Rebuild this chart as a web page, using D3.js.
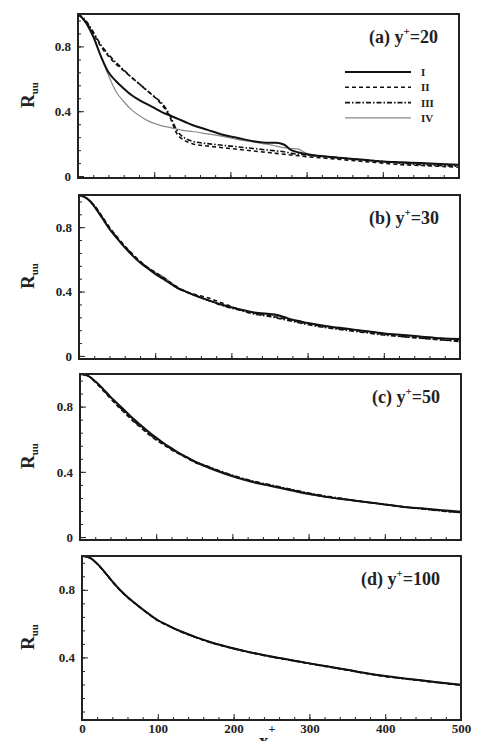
<!DOCTYPE html>
<html>
<head>
<meta charset="utf-8">
<script src="https://d3js.org/d3.v7.min.js"></script>
<style>
  body { margin: 0; background: #fff; }
  text { font-family: "Liberation Serif", "Times New Roman", serif; font-weight: bold; fill: #222; }
</style>
</head>
<body>
<svg id="chart" width="496" height="741"></svg>
<script>
// streamwise separation x+ (shared by all series)
const xs = [0, 10, 20, 30, 40, 50, 60, 70, 80, 90, 100, 110, 120, 130, 140, 150, 170, 190, 210, 230,
            250, 260, 270, 280, 290, 300, 325, 350, 375, 400, 425, 450, 475, 500];

// (a) y+=20
const aI   = [1.00, 0.95, 0.86, 0.74, 0.64, 0.585, 0.54, 0.50, 0.47, 0.445, 0.42, 0.395, 0.375, 0.355, 0.335, 0.315, 0.285, 0.255, 0.235, 0.215,
              0.205, 0.205, 0.195, 0.16, 0.145, 0.135, 0.12, 0.11, 0.10, 0.09, 0.085, 0.08, 0.075, 0.07];
const aII  = [1.00, 0.95, 0.88, 0.80, 0.74, 0.69, 0.65, 0.61, 0.57, 0.53, 0.49, 0.44, 0.37, 0.26, 0.22, 0.20, 0.185, 0.175, 0.165, 0.155,
              0.145, 0.14, 0.135, 0.13, 0.125, 0.12, 0.11, 0.10, 0.09, 0.08, 0.07, 0.065, 0.06, 0.055];
const aIII = [1.00, 0.96, 0.89, 0.81, 0.75, 0.70, 0.655, 0.61, 0.57, 0.53, 0.49, 0.45, 0.38, 0.28, 0.235, 0.215, 0.20, 0.19, 0.18, 0.17,
              0.16, 0.155, 0.15, 0.14, 0.135, 0.13, 0.12, 0.11, 0.10, 0.09, 0.08, 0.07, 0.065, 0.06];
const aIV  = [1.00, 0.95, 0.87, 0.74, 0.62, 0.52, 0.46, 0.41, 0.375, 0.345, 0.325, 0.31, 0.30, 0.29, 0.28, 0.275, 0.26, 0.245, 0.225, 0.21,
              0.195, 0.185, 0.175, 0.17, 0.165, 0.14, 0.12, 0.11, 0.10, 0.09, 0.08, 0.075, 0.07, 0.065];

// (b) y+=30
const bI   = [1.00, 0.98, 0.93, 0.86, 0.79, 0.73, 0.675, 0.625, 0.58, 0.545, 0.51, 0.48, 0.45, 0.42, 0.40, 0.38, 0.345, 0.315, 0.29, 0.27,
              0.26, 0.255, 0.24, 0.225, 0.215, 0.205, 0.185, 0.17, 0.155, 0.14, 0.13, 0.12, 0.11, 0.105];
const bII  = [1.00, 0.98, 0.935, 0.87, 0.80, 0.74, 0.685, 0.635, 0.59, 0.55, 0.52, 0.49, 0.455, 0.425, 0.40, 0.385, 0.36, 0.325, 0.29, 0.265,
              0.25, 0.24, 0.23, 0.22, 0.21, 0.20, 0.18, 0.165, 0.15, 0.135, 0.12, 0.11, 0.10, 0.095];
const bIII = [1.00, 0.98, 0.935, 0.865, 0.795, 0.735, 0.68, 0.63, 0.585, 0.55, 0.515, 0.485, 0.45, 0.42, 0.40, 0.38, 0.345, 0.31, 0.285, 0.26,
              0.245, 0.235, 0.225, 0.215, 0.205, 0.195, 0.175, 0.16, 0.145, 0.13, 0.12, 0.11, 0.10, 0.09];
const bIV  = [1.00, 0.98, 0.93, 0.86, 0.79, 0.73, 0.675, 0.625, 0.585, 0.55, 0.52, 0.495, 0.46, 0.425, 0.40, 0.38, 0.345, 0.315, 0.29, 0.27,
              0.255, 0.245, 0.235, 0.225, 0.215, 0.205, 0.185, 0.17, 0.155, 0.14, 0.13, 0.12, 0.11, 0.10];

// (c) y+=50
const cI   = [1.00, 0.99, 0.955, 0.91, 0.86, 0.815, 0.77, 0.725, 0.685, 0.645, 0.61, 0.575, 0.545, 0.515, 0.49, 0.465, 0.425, 0.39, 0.36, 0.335,
              0.315, 0.305, 0.295, 0.285, 0.275, 0.265, 0.245, 0.23, 0.215, 0.20, 0.185, 0.175, 0.165, 0.155];
const cII  = [1.00, 0.99, 0.95, 0.90, 0.85, 0.80, 0.755, 0.71, 0.67, 0.63, 0.595, 0.565, 0.535, 0.51, 0.485, 0.46, 0.425, 0.39, 0.36, 0.335,
              0.315, 0.305, 0.295, 0.285, 0.275, 0.265, 0.245, 0.23, 0.215, 0.20, 0.185, 0.175, 0.16, 0.15];
const cIII = [1.00, 0.99, 0.952, 0.905, 0.855, 0.805, 0.76, 0.715, 0.675, 0.635, 0.60, 0.57, 0.54, 0.515, 0.49, 0.465, 0.43, 0.395, 0.365, 0.34,
              0.32, 0.31, 0.30, 0.29, 0.28, 0.27, 0.25, 0.232, 0.215, 0.20, 0.185, 0.172, 0.16, 0.15];
const cIV  = [1.00, 0.99, 0.955, 0.91, 0.86, 0.812, 0.765, 0.72, 0.68, 0.64, 0.605, 0.57, 0.54, 0.51, 0.485, 0.46, 0.42, 0.385, 0.355, 0.33,
              0.31, 0.30, 0.29, 0.28, 0.27, 0.262, 0.243, 0.228, 0.213, 0.198, 0.185, 0.173, 0.162, 0.152];

// (d) y+=100
const dI   = [1.00, 0.99, 0.955, 0.905, 0.85, 0.80, 0.757, 0.72, 0.685, 0.651, 0.62, 0.597, 0.575, 0.555, 0.537, 0.52, 0.49, 0.465, 0.443, 0.423,
              0.405, 0.397, 0.389, 0.381, 0.373, 0.365, 0.346, 0.327, 0.307, 0.29, 0.276, 0.263, 0.25, 0.238];
const dII  = [1.00, 0.99, 0.954, 0.903, 0.848, 0.798, 0.755, 0.718, 0.683, 0.649, 0.618, 0.595, 0.573, 0.553, 0.535, 0.518, 0.488, 0.463, 0.441, 0.421,
              0.403, 0.395, 0.387, 0.379, 0.371, 0.363, 0.344, 0.325, 0.305, 0.288, 0.274, 0.261, 0.248, 0.236];
const dIII = [1.00, 0.99, 0.954, 0.904, 0.849, 0.799, 0.756, 0.719, 0.684, 0.65, 0.619, 0.596, 0.574, 0.554, 0.536, 0.519, 0.489, 0.464, 0.442, 0.422,
              0.404, 0.396, 0.388, 0.38, 0.372, 0.364, 0.345, 0.326, 0.306, 0.289, 0.275, 0.262, 0.249, 0.237];
const dIV  = [1.00, 0.99, 0.956, 0.906, 0.851, 0.801, 0.758, 0.721, 0.686, 0.652, 0.621, 0.598, 0.576, 0.556, 0.538, 0.521, 0.491, 0.466, 0.444, 0.424,
              0.406, 0.398, 0.39, 0.382, 0.374, 0.366, 0.347, 0.328, 0.308, 0.291, 0.277, 0.264, 0.251, 0.239];

const seriesNames = ['I', 'II', 'III', 'IV'];
const panelTags = ['(a)', '(b)', '(c)', '(d)'];
const panelYplus = ['20', '30', '50', '100'];
const xMajor = [0, 100, 200, 300, 400, 500];
const yMajor = [0, 0.4, 0.8];

// line look per series
const styles = [
    { stroke: '#111', width: 2.0, dash: null },
    { stroke: '#111', width: 1.6, dash: '4,3' },
    { stroke: '#111', width: 1.6, dash: '5,2,1.5,2' },
    { stroke: '#8a8a8a', width: 1.2, dash: null }
];

// panel frames (pixels) and lower y limit
const layout = [
    { left: 78, right: 459, top: 14,  bottom: 178, ymin: -0.012 },
    { left: 79, right: 460, top: 195, bottom: 359, ymin: -0.019 },
    { left: 80, right: 461, top: 374, bottom: 540, ymin: -0.018 },
    { left: 82, right: 461, top: 556, bottom: 720, ymin: 0.03 }
];

const allSeries = [[aI, aII, aIII, aIV], [bI, bII, bIII, bIV], [cI, cII, cIII, cIV], [dI, dII, dIII, dIV]];

const svg = d3.select('#chart');

function styleAxisText(sel) {
    sel.attr('font-family', '"Liberation Serif", serif')
        .attr('font-weight', 'bold')
        .attr('font-size', 13);
    sel.selectAll('text').attr('fill', '#222');
}

layout.forEach((p, i) => {
    const x = d3.scaleLinear().domain([0, 500]).range([p.left, p.right]);
    const y = d3.scaleLinear().domain([p.ymin, 1]).range([p.bottom, p.top]);
    const g = svg.append('g');
    const last = i === layout.length - 1;

    // clip so lines stay inside frame
    g.append('clipPath').attr('id', 'clip' + i)
        .append('rect')
        .attr('x', p.left).attr('y', p.top)
        .attr('width', p.right - p.left).attr('height', p.bottom - p.top);

    // minor ticks
    g.append('g')
        .attr('transform', `translate(0,${p.bottom})`)
        .call(d3.axisBottom(x).tickValues(d3.range(0, 501, 20)).tickSize(-3).tickFormat(''))
        .call(a => a.select('.domain').remove());
    g.append('g')
        .attr('transform', `translate(${p.left},0)`)
        .call(d3.axisLeft(y).tickValues(d3.range(0, 1.0, 0.08).filter(v => v >= p.ymin)).tickSize(-3).tickFormat(''))
        .call(a => a.select('.domain').remove());

    // major ticks
    g.append('g')
        .attr('transform', `translate(0,${p.bottom})`)
        .call(d3.axisBottom(x).tickValues(xMajor).tickSize(-6).tickPadding(4)
            .tickFormat(last ? d3.format('d') : ''))
        .call(a => a.select('.domain').remove())
        .call(styleAxisText);

    g.append('g')
        .attr('transform', `translate(${p.left},0)`)
        .call(d3.axisLeft(y).tickValues(yMajor.filter(v => v >= p.ymin)).tickSize(-6).tickPadding(7)
            .tickFormat(v => v === 0 ? '0' : d3.format('.1f')(v)))
        .call(a => a.select('.domain').remove())
        .call(styleAxisText);
    g.selectAll('.tick line').attr('stroke', '#222');

    // curves, draw IV first so the black lines sit on top
    const line = d3.line()
        .x((d, k) => x(xs[k]))
        .y(d => y(d))
        .curve(d3.curveMonotoneX);

    const series = allSeries[i];
    [3, 2, 1, 0].forEach(s => {
        g.append('path')
            .attr('clip-path', `url(#clip${i})`)
            .attr('d', line(series[s]))
            .attr('fill', 'none')
            .attr('stroke', styles[s].stroke)
            .attr('stroke-width', styles[s].width)
            .attr('stroke-dasharray', styles[s].dash);
    });

    // frame
    g.append('rect')
        .attr('x', p.left).attr('y', p.top)
        .attr('width', p.right - p.left).attr('height', p.bottom - p.top)
        .attr('fill', 'none').attr('stroke', '#222').attr('stroke-width', 2);

    // panel label
    const t = g.append('text')
        .attr('x', p.right - 21).attr('y', p.top + 29)
        .attr('text-anchor', 'end')
        .style('font-size', '18px');
    t.append('tspan').text(panelTags[i] + ' y');
    t.append('tspan').attr('dy', -8).style('font-size', '11px').text('+');
    t.append('tspan').attr('dy', 8).text('=' + panelYplus[i]);

    // y axis title R_uu
    const yt = g.append('text')
        .attr('transform', `translate(34,${(p.top + p.bottom) / 2 + 12}) rotate(-90)`)
        .style('font-size', '19px');
    yt.append('tspan').text('R');
    yt.append('tspan').attr('dy', 4).style('font-size', '11px').text('uu');

    // legend in first panel
    if (i === 0) {
        const leg = g.append('g');
        seriesNames.forEach((name, s) => {
            const ly = 72 + s * 15.3;
            leg.append('line')
                .attr('x1', 345).attr('x2', 411).attr('y1', ly).attr('y2', ly)
                .attr('stroke', styles[s].stroke)
                .attr('stroke-width', styles[s].width)
                .attr('stroke-dasharray', styles[s].dash);
            leg.append('text')
                .attr('x', 421).attr('y', ly + 4)
                .style('font-size', '11px')
                .text(name);
        });
    }

    // x axis title under last panel (partly below the page edge, as in the source)
    if (last) {
        const xt = g.append('text')
            .attr('x', 259).attr('y', 747)
            .style('font-size', '19px');
        xt.append('tspan').text('x');
        xt.append('tspan').attr('dy', -14).style('font-size', '12px').text('+');
    }
});
</script>
</body>
</html>
